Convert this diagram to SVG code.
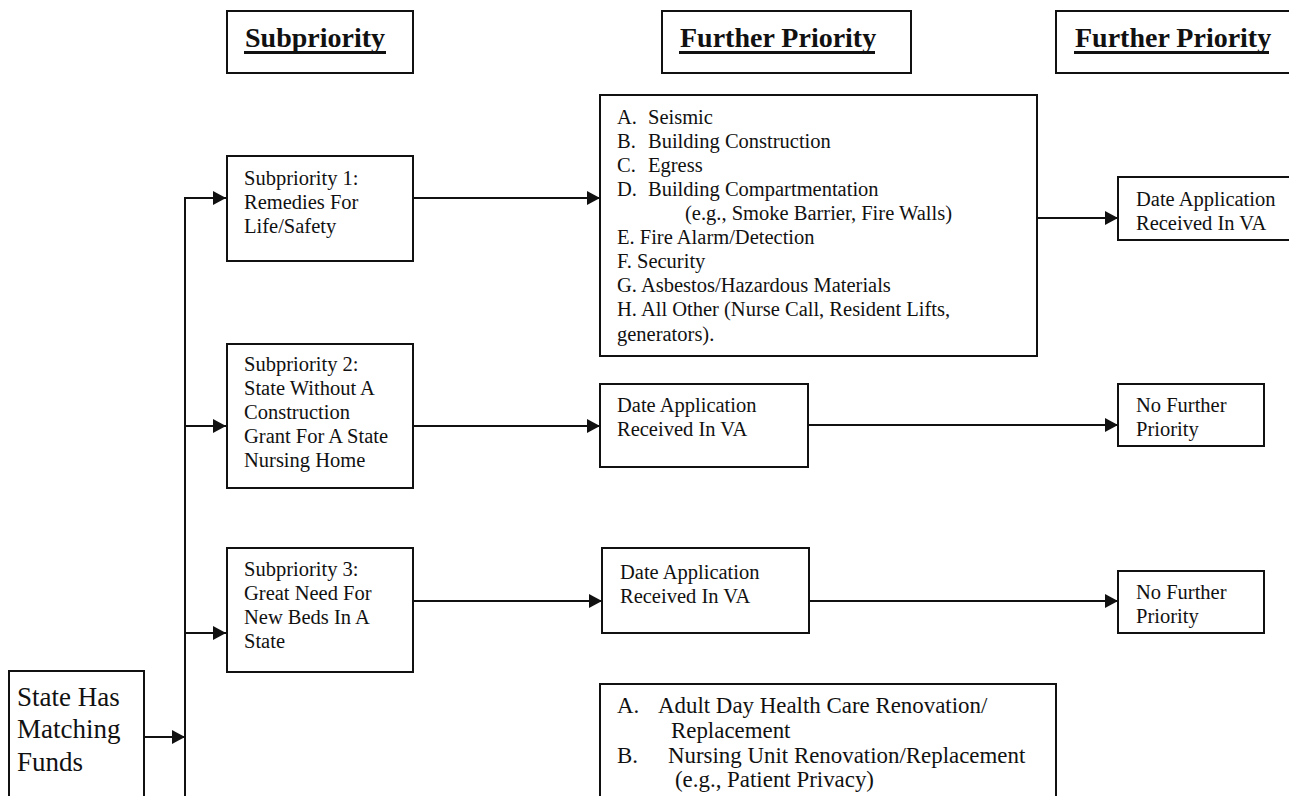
<svg xmlns="http://www.w3.org/2000/svg" width="1289" height="796" viewBox="0 0 1289 796">
<defs>
<style>
.box{fill:#fff;stroke:#111;stroke-width:2}
.hd{font-family:"Liberation Serif","Times New Roman",serif;font-weight:bold;font-size:28px;fill:#111}
.ul{stroke:#111;stroke-width:3}
.t{font-family:"Liberation Serif","Times New Roman",serif;font-size:20.5px;fill:#111}
.tb{font-family:"Liberation Serif","Times New Roman",serif;font-size:22.9px;fill:#111}
.ts{font-family:"Liberation Serif","Times New Roman",serif;font-size:27px;fill:#111}
.c{stroke:#111;stroke-width:2;fill:none}
</style>
<marker id="ah" markerUnits="userSpaceOnUse" markerWidth="14" markerHeight="14" refX="13" refY="7" orient="auto">
<path d="M0,0 L13,7 L0,14 z" fill="#111"/>
</marker>
</defs>
<rect width="1289" height="796" fill="#fff"/>

<g id="hdr-subpriority">
<rect class="box" x="227" y="11" width="186" height="62"/>
<text class="hd" x="245" y="47">Subpriority</text>
<line class="ul" x1="244" y1="52.5" x2="386" y2="52.5"/>
</g>
<g id="hdr-further1">
<rect class="box" x="662" y="11" width="249" height="62"/>
<text class="hd" x="680" y="47">Further Priority</text>
<line class="ul" x1="679" y1="52.5" x2="875" y2="52.5"/>
</g>
<g id="hdr-further2">
<rect class="box" x="1056" y="11" width="245" height="62"/>
<text class="hd" x="1075" y="47">Further Priority</text>
<line class="ul" x1="1074" y1="52.5" x2="1269" y2="52.5"/>
</g>

<g id="connectors">
<line class="c" x1="185" y1="198" x2="185" y2="800"/>
<line class="c" x1="184" y1="198" x2="226" y2="198" marker-end="url(#ah)"/>
<line class="c" x1="185" y1="426" x2="226" y2="426" marker-end="url(#ah)"/>
<line class="c" x1="185" y1="633" x2="226" y2="633" marker-end="url(#ah)"/>
<line class="c" x1="144" y1="737" x2="185" y2="737" marker-end="url(#ah)"/>
<line class="c" x1="413" y1="198" x2="600" y2="198" marker-end="url(#ah)"/>
<line class="c" x1="1037" y1="218" x2="1118" y2="218" marker-end="url(#ah)"/>
<line class="c" x1="413" y1="426" x2="600" y2="426" marker-end="url(#ah)"/>
<line class="c" x1="808" y1="425" x2="1118" y2="425" marker-end="url(#ah)"/>
<line class="c" x1="413" y1="601" x2="602" y2="601" marker-end="url(#ah)"/>
<line class="c" x1="809" y1="601" x2="1118" y2="601" marker-end="url(#ah)"/>
</g>

<g id="sub1">
<rect class="box" x="227" y="156" width="186" height="105"/>
<text class="t" x="244" y="185">Subpriority 1:</text>
<text class="t" x="244" y="209">Remedies For</text>
<text class="t" x="244" y="233">Life/Safety</text>
</g>
<g id="sub2">
<rect class="box" x="227" y="344" width="186" height="144"/>
<text class="t" x="244" y="371">Subpriority 2:</text>
<text class="t" x="244" y="395">State Without A</text>
<text class="t" x="244" y="419">Construction</text>
<text class="t" x="244" y="443">Grant For A State</text>
<text class="t" x="244" y="467">Nursing Home</text>
</g>
<g id="sub3">
<rect class="box" x="227" y="548" width="186" height="124"/>
<text class="t" x="244" y="576">Subpriority 3:</text>
<text class="t" x="244" y="600">Great Need For</text>
<text class="t" x="244" y="624">New Beds In A</text>
<text class="t" x="244" y="648">State</text>
</g>
<g id="state">
<rect class="box" x="9" y="671" width="135" height="140"/>
<text class="ts" x="17" y="706">State Has</text>
<text class="ts" x="17" y="738">Matching</text>
<text class="ts" x="17" y="771">Funds</text>
</g>
<g id="lifesafety-list">
<rect class="box" x="600" y="95" width="437" height="261"/>
<text class="t" x="617" y="124">A.</text><text class="t" x="648" y="124">Seismic</text>
<text class="t" x="617" y="148">B.</text><text class="t" x="648" y="148">Building Construction</text>
<text class="t" x="617" y="172">C.</text><text class="t" x="648" y="172">Egress</text>
<text class="t" x="617" y="196">D.</text><text class="t" x="648" y="196">Building Compartmentation</text>
<text class="t" x="685" y="220">(e.g., Smoke Barrier, Fire Walls)</text>
<text class="t" x="617" y="244">E. Fire Alarm/Detection</text>
<text class="t" x="617" y="268">F. Security</text>
<text class="t" x="617" y="292">G. Asbestos/Hazardous Materials</text>
<text class="t" x="617" y="316">H. All Other (Nurse Call, Resident Lifts,</text>
<text class="t" x="617" y="341">generators).</text>
</g>
<g id="date1">
<rect class="box" x="1118" y="177" width="180" height="63"/>
<text class="t" x="1136" y="206">Date Application</text>
<text class="t" x="1136" y="230">Received In VA</text>
</g>
<g id="date2">
<rect class="box" x="600" y="384" width="208" height="83"/>
<text class="t" x="617" y="412">Date Application</text>
<text class="t" x="617" y="436">Received In VA</text>
</g>
<g id="nofurther1">
<rect class="box" x="1118" y="384" width="146" height="62"/>
<text class="t" x="1136" y="412">No Further</text>
<text class="t" x="1136" y="436">Priority</text>
</g>
<g id="date3">
<rect class="box" x="602" y="548" width="207" height="85"/>
<text class="t" x="620" y="579">Date Application</text>
<text class="t" x="620" y="603">Received In VA</text>
</g>
<g id="nofurther2">
<rect class="box" x="1118" y="571" width="146" height="62"/>
<text class="t" x="1136" y="599">No Further</text>
<text class="t" x="1136" y="623">Priority</text>
</g>
<g id="renovation-list">
<rect class="box" x="600" y="684" width="456" height="140"/>
<text class="tb" x="617" y="713">A.</text><text class="tb" x="658" y="713">Adult Day Health Care Renovation/</text>
<text class="tb" x="671" y="738">Replacement</text>
<text class="tb" x="617" y="763">B.</text><text class="tb" x="668" y="763">Nursing Unit Renovation/Replacement</text>
<text class="tb" x="675" y="787">(e.g., Patient Privacy)</text>
</g>
</svg>
